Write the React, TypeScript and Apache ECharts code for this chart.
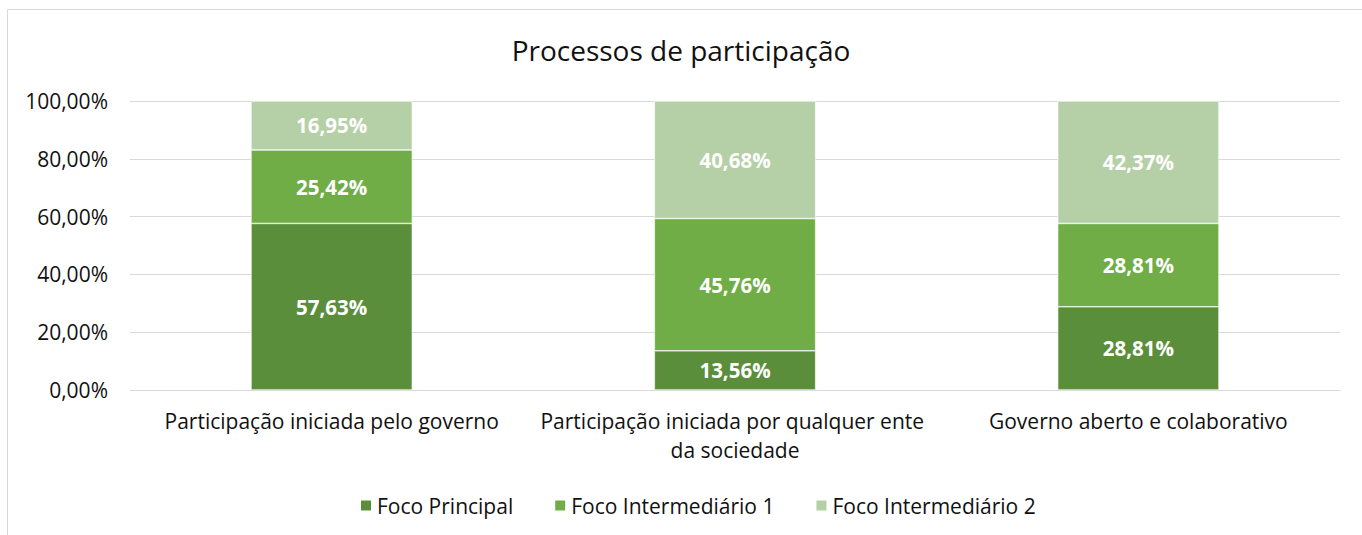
import React, { useEffect, useRef } from "react";
import * as echarts from "echarts";

const categories = [
  "Participação iniciada pelo governo",
  "Participação iniciada por qualquer ente da sociedade",
  "Governo aberto e colaborativo",
];
const seriesNames = ["Foco Principal", "Foco Intermediário 1", "Foco Intermediário 2"];
const focoPrincipal = [57.63, 13.56, 28.81];
const focoIntermediario1 = [25.42, 45.76, 28.81];
const focoIntermediario2 = [16.95, 40.68, 42.37];
const colors = ["#5B8E3B", "#70AD47", "#B5D0A6"];

const fmt = (v: number) => v.toFixed(2).replace(".", ",") + "%";
const FONT = "'Open Sans', sans-serif";

export default function App() {
  const ref = useRef<HTMLDivElement>(null);
  useEffect(() => {
    if (!ref.current) return;
    const chart = echarts.init(ref.current, undefined, { renderer: "svg" });
    const data = [focoPrincipal, focoIntermediario1, focoIntermediario2];
    chart.setOption({
      animation: false,
      textStyle: { fontFamily: FONT },
      graphic: [
        {
          type: "rect",
          shape: { x: 7.5, y: 9.5, width: 1400, height: 600 },
          style: { fill: "none", stroke: "#D9D9D9", lineWidth: 1 },
          silent: true,
        },
      ],
      title: {
        text: "Processos de participação",
        left: "center",
        top: 31,
        textStyle: { fontFamily: FONT, fontSize: 28, fontWeight: "normal", color: "#111" },
      },
      legend: {
        bottom: 14,
        left: 354,
        itemWidth: 12,
        itemHeight: 12,
        itemGap: 40,
        icon: "rect",
        textStyle: { fontFamily: FONT, fontSize: 21, color: "#111" },
        data: seriesNames,
      },
      grid: { left: 130, right: 22, top: 101, bottom: 145 },
      xAxis: {
        type: "category",
        data: categories,
        axisLine: { lineStyle: { color: "#D9D9D9", width: 1 } },
        axisTick: { show: false },
        axisLabel: {
          fontFamily: FONT,
          fontSize: 21,
          color: "#111",
          margin: 16,
          width: 430,
          overflow: "break",
          lineHeight: 29,
          interval: 0,
        },
      },
      yAxis: {
        type: "value",
        min: 0,
        max: 100,
        interval: 20,
        axisLine: { show: false },
        axisTick: { show: false },
        splitLine: { lineStyle: { color: "#D9D9D9", width: 1 } },
        axisLabel: {
          fontFamily: FONT,
          fontSize: 21,
          color: "#111",
          margin: 22,
          formatter: (v: number) => fmt(v),
        },
      },
      series: seriesNames.map((name, i) => ({
        name,
        type: "bar",
        stack: "total",
        barWidth: "40%",
        data: data[i],
        itemStyle: { color: colors[i], borderColor: "#ffffff", borderWidth: 0.6 },
        label: {
          show: true,
          position: "inside",
          color: "#ffffff",
          fontFamily: FONT,
          fontWeight: "bold",
          fontSize: 20.5,
          formatter: (p: any) => fmt(p.value),
        },
      })),
    });
    return () => chart.dispose();
  }, []);
  return (
    <div
      ref={ref}
      style={{ position: "fixed", left: 0, top: 0, width: 1362, height: 535, background: "#fff" }}
    />
  );
}
